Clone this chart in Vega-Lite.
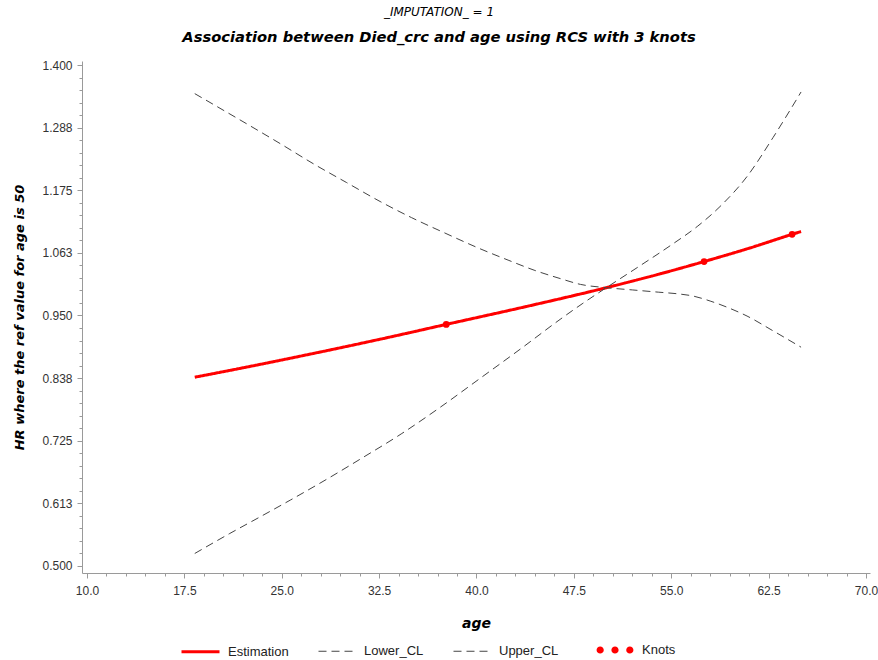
{
  "$schema": "https://vega.github.io/schema/vega-lite/v6.json",
  "width": 788,
  "height": 512,
  "autosize": "none",
  "padding": {"left": 82, "top": 61, "right": 8, "bottom": 87},
  "background": "white",
  "config": {"view": {"stroke": null}, "font": "Liberation Sans"},
  "title": {
    "text": "_IMPUTATION_ = 1",
    "subtitle": "Association between Died_crc and age using RCS with 3 knots",
    "anchor": "middle",
    "frame": "group",
    "dx": -37,
    "font": "DejaVu Sans",
    "fontSize": 12,
    "fontStyle": "italic",
    "fontWeight": "normal",
    "color": "#000000",
    "subtitleFont": "DejaVu Sans",
    "subtitleFontSize": 14.7,
    "subtitleFontStyle": "italic",
    "subtitleFontWeight": "bold",
    "subtitleColor": "#000000",
    "subtitlePadding": 11,
    "offset": 14
  },
  "data": {
    "values": [
      {"series": "Estimation", "age": 18.3, "value": 0.839},
      {"series": "Estimation", "age": 23, "value": 0.8605},
      {"series": "Estimation", "age": 28, "value": 0.8845},
      {"series": "Estimation", "age": 33, "value": 0.9095},
      {"series": "Estimation", "age": 37.67, "value": 0.934},
      {"series": "Estimation", "age": 44, "value": 0.967},
      {"series": "Estimation", "age": 50, "value": 1.0},
      {"series": "Estimation", "age": 54, "value": 1.024},
      {"series": "Estimation", "age": 57.53, "value": 1.047},
      {"series": "Estimation", "age": 61, "value": 1.071},
      {"series": "Estimation", "age": 64.31, "value": 1.096},
      {"series": "Estimation", "age": 65.0, "value": 1.101},
      {"series": "Lower_CL", "age": 18.3, "value": 0.522},
      {"series": "Lower_CL", "age": 21, "value": 0.558},
      {"series": "Lower_CL", "age": 23.5, "value": 0.590},
      {"series": "Lower_CL", "age": 25.66, "value": 0.618},
      {"series": "Lower_CL", "age": 28.5, "value": 0.656},
      {"series": "Lower_CL", "age": 31.28, "value": 0.695},
      {"series": "Lower_CL", "age": 34.2, "value": 0.737},
      {"series": "Lower_CL", "age": 37.21, "value": 0.785},
      {"series": "Lower_CL", "age": 40.28, "value": 0.837},
      {"series": "Lower_CL", "age": 43.4, "value": 0.890},
      {"series": "Lower_CL", "age": 46.44, "value": 0.943},
      {"series": "Lower_CL", "age": 48.2, "value": 0.972},
      {"series": "Lower_CL", "age": 50, "value": 1.0},
      {"series": "Lower_CL", "age": 52.5, "value": 1.038},
      {"series": "Lower_CL", "age": 55.14, "value": 1.079},
      {"series": "Lower_CL", "age": 57, "value": 1.110},
      {"series": "Lower_CL", "age": 58.76, "value": 1.146},
      {"series": "Lower_CL", "age": 60.84, "value": 1.200},
      {"series": "Lower_CL", "age": 62.84, "value": 1.270},
      {"series": "Lower_CL", "age": 65.0, "value": 1.352},
      {"series": "Upper_CL", "age": 18.3, "value": 1.349},
      {"series": "Upper_CL", "age": 20, "value": 1.326},
      {"series": "Upper_CL", "age": 22.5, "value": 1.292},
      {"series": "Upper_CL", "age": 24.89, "value": 1.259},
      {"series": "Upper_CL", "age": 27.5, "value": 1.222},
      {"series": "Upper_CL", "age": 30, "value": 1.189},
      {"series": "Upper_CL", "age": 32.58, "value": 1.155},
      {"series": "Upper_CL", "age": 35, "value": 1.126},
      {"series": "Upper_CL", "age": 37.5, "value": 1.099},
      {"series": "Upper_CL", "age": 40.28, "value": 1.070},
      {"series": "Upper_CL", "age": 42.5, "value": 1.049},
      {"series": "Upper_CL", "age": 44.5, "value": 1.031},
      {"series": "Upper_CL", "age": 46.44, "value": 1.0165},
      {"series": "Upper_CL", "age": 48, "value": 1.006},
      {"series": "Upper_CL", "age": 50, "value": 1.0},
      {"series": "Upper_CL", "age": 52, "value": 0.996},
      {"series": "Upper_CL", "age": 54, "value": 0.992},
      {"series": "Upper_CL", "age": 55.5, "value": 0.989},
      {"series": "Upper_CL", "age": 56.68, "value": 0.985},
      {"series": "Upper_CL", "age": 58, "value": 0.976},
      {"series": "Upper_CL", "age": 59.5, "value": 0.963},
      {"series": "Upper_CL", "age": 60.84, "value": 0.949},
      {"series": "Upper_CL", "age": 62.8, "value": 0.923},
      {"series": "Upper_CL", "age": 65.0, "value": 0.893},
      {"series": "Knots", "age": 37.67, "value": 0.934},
      {"series": "Knots", "age": 57.53, "value": 1.047},
      {"series": "Knots", "age": 64.31, "value": 1.096}
    ]
  },
  "encoding": {
    "x": {
      "field": "age",
      "type": "quantitative",
      "scale": {"domain": [9.615, 70.31], "nice": false, "zero": false},
      "axis": {
        "values": [10, 11.5, 13, 14.5, 16, 17.5, 19, 20.5, 22, 23.5, 25, 26.5, 28, 29.5, 31, 32.5, 34, 35.5, 37, 38.5, 40, 41.5, 43, 44.5, 46, 47.5, 49, 50.5, 52, 53.5, 55, 56.5, 58, 59.5, 61, 62.5, 64, 65.5, 67, 68.5, 70],
        "labelExpr": "(datum.value - 10) % 7.5 === 0 ? format(datum.value, '.1f') : ''",
        "tickSize": {"condition": {"test": "(datum.value - 10) % 7.5 === 0", "value": 5}, "value": 3},
        "labelOverlap": false,
        "labelFlush": false,
        "grid": false,
        "domainColor": "#9a9a9a",
        "tickColor": "#9a9a9a",
        "labelColor": "#333333",
        "labelFont": "Liberation Sans",
        "labelFontSize": 12,
        "labelPadding": 7,
        "title": "age",
        "titleFont": "DejaVu Sans",
        "titleFontSize": 14,
        "titleFontStyle": "italic",
        "titleFontWeight": "bold",
        "titleColor": "#000000",
        "titlePadding": 20
      }
    },
    "y": {
      "field": "value",
      "type": "quantitative",
      "scale": {"domain": [0.4869, 1.4077], "nice": false, "zero": false},
      "axis": {
        "values": [0.5, 0.5225, 0.545, 0.5675, 0.59, 0.6125, 0.635, 0.6575, 0.68, 0.7025, 0.725, 0.7475, 0.77, 0.7925, 0.815, 0.8375, 0.86, 0.8825, 0.905, 0.9275, 0.95, 0.9725, 0.995, 1.0175, 1.04, 1.0625, 1.085, 1.1075, 1.13, 1.1525, 1.175, 1.1975, 1.22, 1.2425, 1.265, 1.2875, 1.31, 1.3325, 1.355, 1.3775, 1.4],
        "labelExpr": "round((datum.value - 0.5) / 0.0225) % 5 === 0 ? format(datum.value + 1e-9, '.3f') : ''",
        "tickSize": {"condition": {"test": "round((datum.value - 0.5) / 0.0225) % 5 === 0", "value": 5}, "value": 3},
        "labelOverlap": false,
        "labelFlush": false,
        "grid": false,
        "domainColor": "#9a9a9a",
        "tickColor": "#9a9a9a",
        "labelColor": "#333333",
        "labelFont": "Liberation Sans",
        "labelFontSize": 12,
        "labelPadding": 5,
        "title": "HR where the ref value for age is 50",
        "titleFont": "DejaVu Sans",
        "titleFontSize": 13,
        "titleFontStyle": "italic",
        "titleFontWeight": "bold",
        "titleColor": "#000000",
        "titlePadding": 15
      }
    }
  },
  "layer": [
    {
      "transform": [{"filter": "datum.series !== 'Knots'"}],
      "mark": {"type": "line", "interpolate": "monotone"},
      "encoding": {
        "color": {
          "field": "series",
          "type": "nominal",
          "scale": {"domain": ["Estimation", "Lower_CL", "Upper_CL"], "range": ["#ff0000", "#444444", "#444444"]},
          "legend": {
            "orient": "none",
            "legendX": 98,
            "legendY": 570,
            "direction": "horizontal",
            "title": null,
            "symbolType": "stroke",
            "symbolSize": 1444,
            "labelFont": "Liberation Sans",
            "labelFontSize": 13,
            "labelColor": "#222222",
            "labelOffset": 7,
            "columnPadding": 27,
            "padding": 0
          }
        },
        "strokeDash": {
          "field": "series",
          "type": "nominal",
          "scale": {"domain": ["Estimation", "Lower_CL", "Upper_CL"], "range": [[1, 0], [8, 5], [8, 5]]}
        },
        "strokeWidth": {
          "field": "series",
          "type": "nominal",
          "scale": {"type": "ordinal", "domain": ["Estimation", "Lower_CL", "Upper_CL"], "range": [3, 1, 1]}
        }
      }
    },
    {
      "transform": [{"filter": "datum.series === 'Knots'"}],
      "mark": {"type": "point", "filled": true, "size": 45, "opacity": 1, "strokeWidth": 0},
      "encoding": {
        "fill": {
          "datum": "Knots",
          "type": "nominal",
          "scale": {"range": ["#ff0000"]},
          "legend": {
            "orient": "none",
            "legendX": 514,
            "legendY": 570,
            "direction": "horizontal",
            "title": null,
            "symbolType": "M-0.59,0 C-0.59,0.105 -0.675,0.19 -0.78,0.19 C-0.885,0.19 -0.97,0.105 -0.97,0 C-0.97,-0.105 -0.885,-0.19 -0.78,-0.19 C-0.675,-0.19 -0.59,-0.105 -0.59,0 Z M0.19,0 C0.19,0.105 0.105,0.19 0,0.19 C-0.105,0.19 -0.19,0.105 -0.19,0 C-0.19,-0.105 -0.105,-0.19 0,-0.19 C0.105,-0.19 0.19,-0.105 0.19,0 Z M0.97,0 C0.97,0.105 0.885,0.19 0.78,0.19 C0.675,0.19 0.59,0.105 0.59,0 C0.59,-0.105 0.675,-0.19 0.78,-0.19 C0.885,-0.19 0.97,-0.105 0.97,0 Z",
            "symbolSize": 1444,
            "symbolStrokeWidth": 0,
            "symbolOpacity": 1,
            "labelFont": "Liberation Sans",
            "labelFontSize": 13,
            "labelColor": "#222222",
            "labelOffset": 8,
            "padding": 0
          }
        }
      }
    }
  ]
}
